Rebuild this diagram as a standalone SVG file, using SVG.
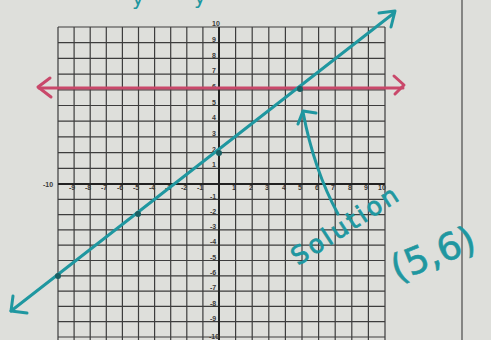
<svg xmlns="http://www.w3.org/2000/svg" width="491" height="340" viewBox="0 0 491 340">
<style>
.grid{stroke:#3d3d3d;stroke-width:1.2;fill:none}
.axis{stroke:#222;stroke-width:2;fill:none}
.lab{font-family:"Liberation Sans",Arial,sans-serif;font-size:7px;font-weight:bold;fill:#3a3a3a}
.ylab{text-anchor:middle}
.xlab{text-anchor:middle}
.blue{stroke:#1f97a0;stroke-width:3;fill:none;stroke-linecap:round;stroke-linejoin:round}
.red{stroke:#c9486a;stroke-width:3;fill:none;stroke-linecap:round;stroke-linejoin:round}
.hand{font-family:"DejaVu Sans","Liberation Sans",sans-serif;fill:#1f97a0}
.dot{fill:#1a5f63}
</style>
<rect width="491" height="340" fill="#dedfdb"/>
<line x1="462" y1="0" x2="462" y2="340" stroke="#555" stroke-width="1.3"/>
<g id="grid">
<path class="grid" d="M58,27V340M74.1,27V340M90.2,27V340M106.3,27V340M122.4,27V340M138.5,27V340M154.6,27V340M170.7,27V340M186.8,27V340M202.9,27V340M235.6,27V340M252.2,27V340M268.8,27V340M285.4,27V340M302,27V340M318.6,27V340M335.2,27V340M351.8,27V340M368.4,27V340M385,27V340"/>
<path class="grid" d="M58,27H385M58,42.7H385M58,58.4H385M58,74.1H385M58,89.8H385M58,105.5H385M58,121.2H385M58,136.9H385M58,152.6H385M58,168.3H385M58,199.3H385M58,214.6H385M58,229.9H385M58,245.2H385M58,260.5H385M58,275.8H385M58,291.1H385M58,306.4H385M58,321.7H385M58,337H385"/>
<path class="axis" d="M219,27V340M58,184H385"/>
</g>
<g id="ylabels" class="lab ylab">
<text x="216" y="26">10</text>
<text x="214" y="42">9</text>
<text x="214" y="58">8</text>
<text x="214" y="73">7</text>
<text x="214" y="89">6</text>
<text x="214" y="105">5</text>
<text x="214" y="120">4</text>
<text x="214" y="136">3</text>
<text x="214" y="152">2</text>
<text x="214" y="167">1</text>
<text x="213" y="199">-1</text>
<text x="213" y="214">-2</text>
<text x="213" y="229">-3</text>
<text x="213" y="244">-4</text>
<text x="213" y="260">-5</text>
<text x="213" y="275">-6</text>
<text x="213" y="290">-7</text>
<text x="213" y="306">-8</text>
<text x="213" y="321">-9</text>
<text x="214" y="339">-10</text>
</g>
<g id="xlabels" class="lab xlab">
<text x="48" y="187">-10</text>
<text x="72" y="190">-9</text>
<text x="88" y="190">-8</text>
<text x="104" y="190">-7</text>
<text x="120" y="190">-6</text>
<text x="136" y="190">-5</text>
<text x="152" y="190">-4</text>
<text x="168" y="190">-3</text>
<text x="184" y="190">-2</text>
<text x="200" y="190">-1</text>
<text x="234" y="190">1</text>
<text x="251" y="190">2</text>
<text x="267" y="190">3</text>
<text x="284" y="190">4</text>
<text x="300" y="190">5</text>
<text x="317" y="190">6</text>
<text x="333" y="190">7</text>
<text x="350" y="190">8</text>
<text x="366" y="190">9</text>
<text x="382" y="190">10</text>
</g>
<g id="connectors">
<g id="red-line">
<path class="red" d="M39,88H403"/>
<path class="red" d="M50,78L38,87L51,97"/>
<path class="red" d="M394,76L404,85L395,94"/>
</g>
<g id="blue-line">
<path class="blue" d="M11,311L394,13"/>
<path class="blue" d="M379,13L395,11L391,27"/>
<path class="blue" d="M13,296L11,311L27,313"/>
</g>
<g id="solution-arrow">
<path class="blue" d="M338,214Q314,170 303,112"/>
<path class="blue" d="M298,124L303,111L316,113"/>
</g>
</g>
<g id="points">
<circle class="dot" cx="58" cy="276" r="3"/>
<circle class="dot" cx="138" cy="214" r="3"/>
<circle class="dot" cx="219" cy="153" r="3"/>
<circle class="dot" cx="300" cy="89" r="3"/>
</g>
<g id="top-text">
<text class="hand" x="132" y="5" font-size="20">y</text>
<text class="hand" x="194" y="4" font-size="20">y</text>
</g>
<g id="solution-label">
<text class="hand" x="298" y="266" font-size="25" stroke="#1f97a0" stroke-width="0.8" transform="rotate(-33 298 266)" textLength="122">Solution</text>
</g>
<g id="point-label">
<text class="hand" x="397" y="282" font-size="37" stroke="#1f97a0" stroke-width="0.6" transform="rotate(-22 397 282)">(5,6)</text>
</g>
</svg>
